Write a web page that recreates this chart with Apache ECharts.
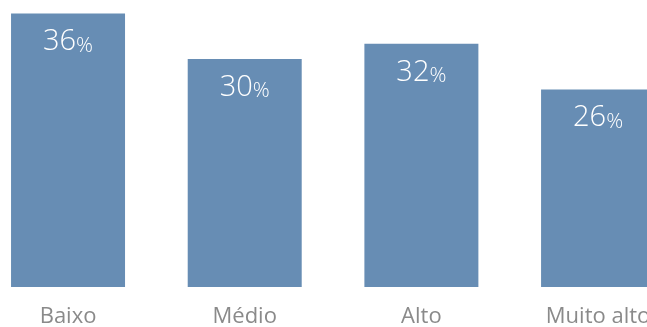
<!DOCTYPE html>
<html><head><meta charset="utf-8">
<script src="https://cdn.jsdelivr.net/npm/echarts@6/dist/echarts.min.js"></script>
<style>html,body{margin:0;padding:0;background:#fff}#c{width:647px;height:327px}</style>
</head><body><div id="c"></div>
<script>
const categories = ['Baixo', 'Médio', 'Alto', 'Muito alto'];
const values = [36, 30, 32, 26];

const chart = echarts.init(document.getElementById('c'), null, {renderer: 'canvas'});
chart.setOption({
  animation: false,
  grid: {left: -20.3, width: 706.7, top: -17, height: 304, containLabel: false, outerBoundsMode: 'none'},
  xAxis: {
    type: 'category', data: categories,
    axisLine: {show: false}, axisTick: {show: false},
    axisLabel: {color: '#8a8a8a', fontFamily: 'Open Sans', fontSize: 22, margin: 19}
  },
  yAxis: {type: 'value', min: 0, max: 40, show: false, splitLine: {show: false}},
  series: [{
    type: 'bar', data: values, barWidth: 114,
    itemStyle: {color: '#678db4'},
    label: {
      show: true, position: 'insideTop', distance: 13,
      formatter: p => '{a|' + p.value + '}{b|%}',
      rich: {
        a: {color: '#fff', fontFamily: 'Open Sans', fontWeight: 300, fontSize: 29, lineHeight: 30, verticalAlign: 'bottom'},
        b: {color: '#fff', fontFamily: 'Open Sans', fontWeight: 300, fontSize: 21, lineHeight: 30, verticalAlign: 'bottom'}
      }
    }
  }]
});
</script></body></html>
